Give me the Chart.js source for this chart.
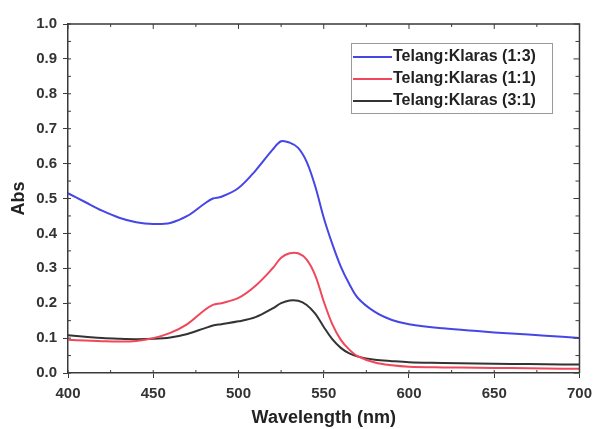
<!DOCTYPE html>
<html>
<head>
<meta charset="utf-8">
<script src="https://cdn.jsdelivr.net/npm/chart.js@4"></script>
<style>
  html, body { margin: 0; padding: 0; background: #fff; }
  #wrap { width: 599px; height: 429px; }
</style>
</head>
<body>
<div id="wrap"><canvas id="absChart" width="599" height="429"></canvas></div>
<script>
const wavelengths = [400, 410, 420, 430, 440, 450, 460, 470, 480, 485, 490, 500, 510, 520, 525, 530,
  535, 540, 545, 550, 555, 560, 565, 570, 580, 590, 600, 620, 640, 660, 680, 700];

const abs13 = [0.515, 0.49, 0.465, 0.445, 0.432, 0.427, 0.43, 0.45, 0.485, 0.5, 0.505, 0.53, 0.58, 0.64, 0.664, 0.66,
  0.645, 0.605, 0.535, 0.445, 0.37, 0.305, 0.255, 0.215, 0.175, 0.152, 0.14, 0.128, 0.12, 0.113, 0.107, 0.1];

const abs11 = [0.095, 0.093, 0.091, 0.09, 0.092, 0.1, 0.115, 0.14, 0.18, 0.195, 0.2, 0.215, 0.25, 0.3, 0.33, 0.343,
  0.343, 0.325, 0.28, 0.205, 0.14, 0.095, 0.067, 0.048, 0.03, 0.022, 0.018, 0.016, 0.015, 0.014, 0.013, 0.012];

const abs31 = [0.108, 0.104, 0.1, 0.098, 0.097, 0.098, 0.102, 0.112, 0.128, 0.136, 0.14, 0.148, 0.16, 0.185, 0.2, 0.208,
  0.207, 0.195, 0.17, 0.132, 0.097, 0.072, 0.056, 0.047, 0.038, 0.034, 0.031, 0.029, 0.027, 0.026, 0.025, 0.024];

const seriesLabels = ["Telang:Klaras (1:3)", "Telang:Klaras (1:1)", "Telang:Klaras (3:1)"];
const seriesColors = ["#4646e6", "#f0475a", "#333333"];

const axisColor = "#3a3a3a";
const tickFont = { family: "Arial, 'Liberation Sans'", size: 15, weight: "bold" };

function toPoints(ys) {
  return wavelengths.map((w, i) => ({ x: w, y: ys[i] }));
}

// frame on top/right + small inward ticks, placed through the scales
const frameTicks = {
  id: "frameTicks",
  afterDraw(chart) {
    const { ctx, chartArea: a, scales: { x, y } } = chart;
    ctx.save();
    ctx.strokeStyle = axisColor;
    ctx.lineWidth = 1.5;
    ctx.beginPath();
    ctx.moveTo(a.left, a.top); ctx.lineTo(a.right, a.top); ctx.lineTo(a.right, a.bottom);
    ctx.stroke();
    ctx.lineWidth = 1;
    ctx.beginPath();
    for (let v = 400; v <= 700; v += 25) {
      const px = x.getPixelForValue(v);
      const len = v % 50 === 0 ? 5 : 3;
      ctx.moveTo(px, a.top); ctx.lineTo(px, a.top + len);
      ctx.moveTo(px, a.bottom); ctx.lineTo(px, a.bottom - 3);
    }
    for (let k = 0; k <= 20; k++) {
      const py = y.getPixelForValue(k * 0.05);
      const len = k % 2 === 0 ? 6 : 4;
      ctx.moveTo(a.right, py); ctx.lineTo(a.right - len, py);
      ctx.moveTo(a.left, py); ctx.lineTo(a.left + 3, py);
    }
    ctx.stroke();
    ctx.restore();
  }
};

// boxed legend inside the plot, upper right
const boxLegend = {
  id: "boxLegend",
  afterDraw(chart) {
    const { ctx } = chart;
    const left = 351, top = 43, w = 201, h = 70, rowH = 22;
    ctx.save();
    ctx.fillStyle = "#fff";
    ctx.fillRect(left, top, w, h);
    ctx.strokeStyle = "#9a9a9a";
    ctx.lineWidth = 1;
    ctx.strokeRect(left + 0.5, top + 0.5, w, h);
    ctx.font = "bold 16px Arial, 'Liberation Sans'";
    ctx.textBaseline = "middle";
    chart.data.datasets.forEach((ds, i) => {
      const cy = top + 14 + i * rowH;
      ctx.strokeStyle = ds.borderColor;
      ctx.lineWidth = 2;
      ctx.beginPath();
      ctx.moveTo(left + 2, cy); ctx.lineTo(left + 41, cy);
      ctx.stroke();
      ctx.fillStyle = "#222";
      ctx.fillText(ds.label, left + 42, cy);
    });
    ctx.restore();
  }
};

document.addEventListener("DOMContentLoaded", () => {
  const ctx = document.getElementById("absChart").getContext("2d");

  new Chart(ctx, {
    type: "line",
    data: {
      datasets: [abs13, abs11, abs31].map((ys, i) => ({
        label: seriesLabels[i],
        data: toPoints(ys),
        borderColor: seriesColors[i],
        backgroundColor: seriesColors[i],
        borderWidth: 2,
        pointRadius: 0,
        fill: false,
        tension: 0.35
      }))
    },
    options: {
      responsive: false,
      animation: false,
      layout: { padding: { top: 24, right: 13, left: 0, bottom: 0 } },
      plugins: {
        legend: { display: false },
        tooltip: { enabled: false }
      },
      scales: {
        x: {
          type: "linear",
          min: 400,
          max: 700,
          afterFit: (s) => { s.height = 56; },
          ticks: { stepSize: 50, color: "#333", font: tickFont, padding: 7, maxRotation: 0 },
          grid: { drawOnChartArea: false, drawTicks: true, tickLength: 5, color: axisColor, lineWidth: 1 },
          border: { display: true, color: axisColor, width: 1.5 },
          title: {
            display: true,
            text: "Wavelength (nm)",
            color: "#222",
            font: { family: "Arial, 'Liberation Sans'", size: 18, weight: "bold" },
            padding: { top: 0, bottom: 0 }
          }
        },
        y: {
          min: 0,
          max: 1,
          afterFit: (s) => { s.width = 68; },
          ticks: {
            stepSize: 0.1,
            color: "#333",
            font: tickFont,
            padding: 6,
            callback: (v) => Number(v).toFixed(1)
          },
          grid: { drawOnChartArea: false, drawTicks: true, tickLength: 5, color: axisColor, lineWidth: 1 },
          border: { display: true, color: axisColor, width: 1.5 },
          title: {
            display: true,
            text: "Abs",
            color: "#222",
            font: { family: "Arial, 'Liberation Sans'", size: 18, weight: "bold" },
            padding: { top: 8, bottom: 0 }
          }
        }
      }
    },
    plugins: [frameTicks, boxLegend]
  });
});
</script>
</body>
</html>
